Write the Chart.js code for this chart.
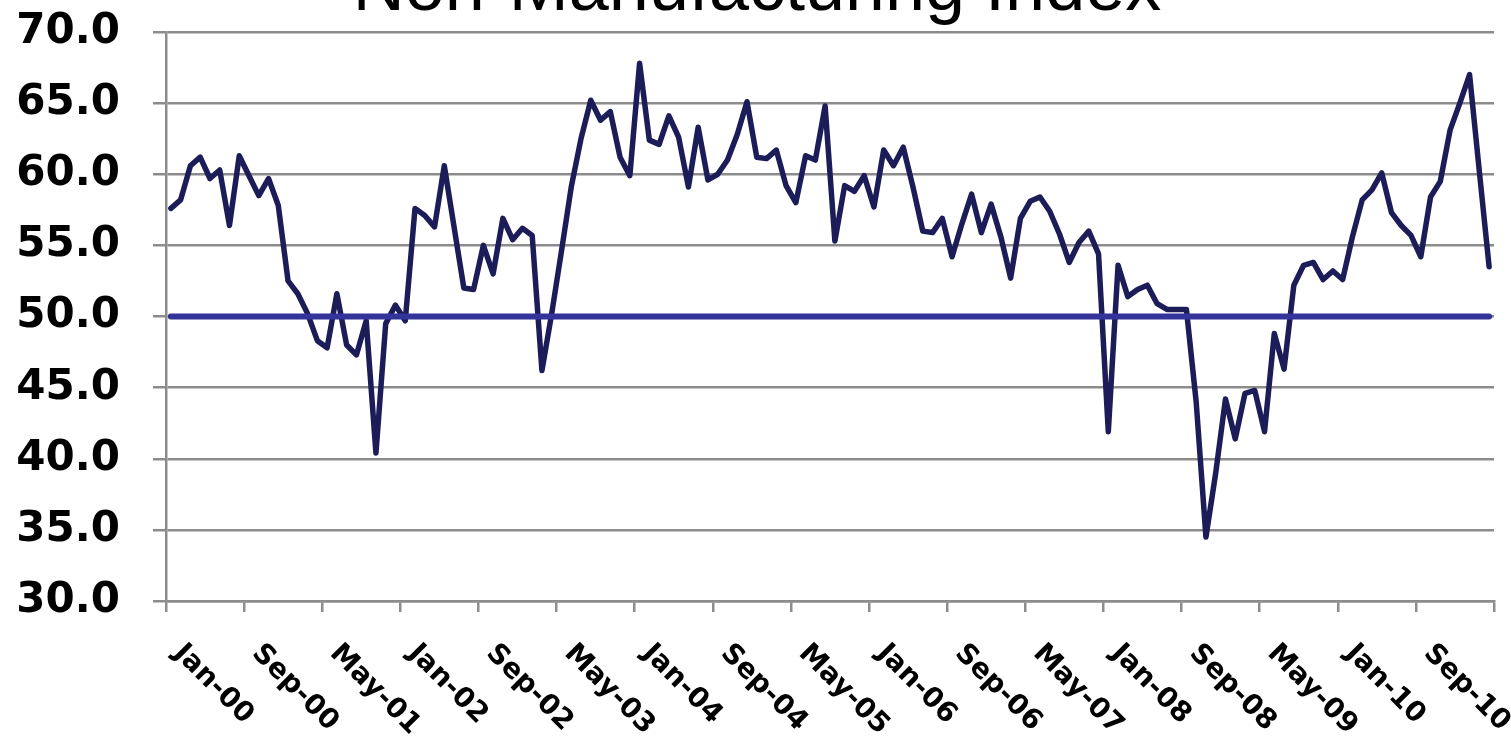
<!DOCTYPE html>
<html>
<head>
<meta charset="utf-8">
<title>Non-Manufacturing Index</title>
<script src="https://cdn.jsdelivr.net/npm/chart.js@4/dist/chart.umd.min.js"></script>
<style>
    html, body { margin: 0; padding: 0; background: #ffffff; }
    #wrap { width: 1511px; height: 736px; }
</style>
</head>
<body>
<div id="wrap"><canvas id="nmiChart" width="1511" height="736"></canvas></div>
<script>
// Non-Manufacturing Index, monthly Jan-00 .. Apr-11

const titleText = 'Non-Manufacturing Index';
const monthNames = ['Jan', 'Feb', 'Mar', 'Apr', 'May', 'Jun', 'Jul', 'Aug', 'Sep', 'Oct', 'Nov', 'Dec'];
const years = ['00', '01', '02', '03', '04', '05', '06', '07', '08', '09', '10', '11'];
const lastMonthOf2011 = 4; // data stops at Apr-11

// values
const indexValues = [
    57.6, 58.2, 60.6, 61.2, 59.7, 60.3, 56.4, 61.3, 59.9, 58.5, 59.7, 57.8,   // 2000
    52.5, 51.6, 50.2, 48.3, 47.8, 51.6, 48.0, 47.3, 49.7, 40.4, 49.5, 50.8,   // 2001
    49.7, 57.6, 57.1, 56.3, 60.6, 56.3, 52.0, 51.9, 55.0, 53.0, 56.9, 55.4,   // 2002
    56.2, 55.7, 46.2, 50.2, 54.6, 59.1, 62.5, 65.2, 63.8, 64.4, 61.2, 59.9,   // 2003
    67.8, 62.4, 62.1, 64.1, 62.6, 59.1, 63.3, 59.6, 60.0, 61.0, 62.8, 65.1,   // 2004
    61.2, 61.1, 61.7, 59.2, 58.0, 61.3, 61.0, 64.8, 55.3, 59.2, 58.8, 59.9,   // 2005
    57.7, 61.7, 60.6, 61.9, 59.1, 56.0, 55.9, 56.9, 54.2, 56.5, 58.6, 55.9,   // 2006
    57.9, 55.6, 52.7, 56.9, 58.1, 58.4, 57.4, 55.8, 53.8, 55.2, 56.0, 54.4,   // 2007
    41.9, 53.6, 51.4, 51.9, 52.2, 50.9, 50.5, 50.5, 50.5, 44.0, 34.5, 39.0,   // 2008
    44.2, 41.4, 44.6, 44.8, 41.9, 48.8, 46.3, 52.2, 53.6, 53.8, 52.6, 53.2,   // 2009
    52.6, 55.6, 58.2, 58.9, 60.1, 57.3, 56.4, 55.7, 54.2, 58.4, 59.5, 63.1,   // 2010
    65.0, 67.0, 60.2, 53.5                                                    // 2011
];

const thresholdLevel = 50;
const yMin = 30;
const yMax = 70;
const yStep = 5;
const tickEvery = 8;

const labels = [];
years.forEach(yy => {
    const count = yy === '11' ? lastMonthOf2011 : 12;
    for (let m = 0; m < count; m++) labels.push(monthNames[m] + '-' + yy);
});

const gridGray = '#8c8c8c';

// rotated month labels and the title, placed from the x scale
const overlayText = {
    id: 'overlayText',
    afterDraw(chart) {
        const { ctx, scales: { x } } = chart;
        const half = (x.getPixelForValue(1) - x.getPixelForValue(0)) / 2;
        ctx.save();
        ctx.fillStyle = '#000000';
        ctx.font = "bold 28px 'DejaVu Sans', sans-serif";
        ctx.textAlign = 'left';
        ctx.textBaseline = 'middle';
        labels.forEach((lab, i) => {
            if (i % tickEvery !== 0) return;
            const px = x.getPixelForValue(i) - half;
            ctx.save();
            ctx.translate(px + 12, x.top + 48);
            ctx.rotate(Math.PI / 4);
            ctx.fillText(lab, 0, 0);
            ctx.restore();
        });
        ctx.font = "72px 'Liberation Sans', Arial, sans-serif";
        ctx.textAlign = 'center';
        ctx.textBaseline = 'alphabetic';
        ctx.fillText(titleText, 757, 10);
        ctx.restore();
    }
};

new Chart(document.getElementById('nmiChart'), {
    type: 'line',
    data: {
        labels: labels,
        datasets: [
            {
                label: '50 line',
                data: labels.map(() => thresholdLevel),
                borderColor: '#333399',
                borderWidth: 6,
                borderCapStyle: 'round',
                pointRadius: 0,
                tension: 0,
                order: 0
            },
            {
                label: titleText,
                data: indexValues,
                borderColor: '#1c1c58',
                borderWidth: 5.5,
                borderCapStyle: 'round',
                borderJoinStyle: 'round',
                pointRadius: 0,
                tension: 0,
                order: 1
            }
        ]
    },
    options: {
        responsive: false,
        animation: false,
        devicePixelRatio: 1,
        layout: { padding: { top: 32, right: 17, bottom: 0, left: 0 } },
        plugins: {
            legend: { display: false },
            tooltip: { enabled: false },
            title: { display: false }
        },
        scales: {
            x: {
                type: 'category',
                offset: true,
                grid: {
                    offset: true,
                    drawOnChartArea: false,
                    drawTicks: true,
                    tickLength: 11,
                    lineWidth: 2.5,
                    color: ctx => (ctx.index === undefined || ctx.index % tickEvery === 0) ? gridGray : 'rgba(0,0,0,0)'
                },
                border: { display: true, color: gridGray, width: 2.5 },
                ticks: { display: false, autoSkip: false },
                afterFit: scale => { scale.height = 135; }
            },
            y: {
                min: yMin,
                max: yMax,
                ticks: {
                    stepSize: yStep,
                    padding: 33,
                    color: '#000000',
                    font: { family: "'DejaVu Sans', sans-serif", size: 42, weight: 'bold' },
                    callback: value => Number(value).toFixed(1)
                },
                grid: { color: gridGray, lineWidth: 2.5, tickLength: 13 },
                border: { display: true, color: gridGray, width: 2.5 },
                afterFit: scale => {
                    scale.width = 166;
                    scale.paddingTop = 0;
                    scale.paddingBottom = 0;
                }
            }
        }
    },
    plugins: [overlayText]
});
</script>
</body>
</html>
